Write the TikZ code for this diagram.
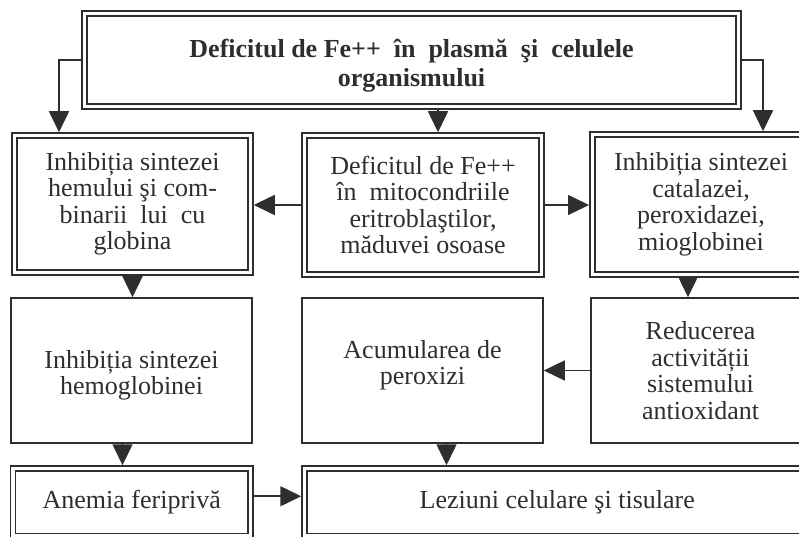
\documentclass[tikz,border=0pt]{standalone}
\usepackage{fontspec}
\setmainfont{Liberation Serif}
\usepackage{tikz}
\usetikzlibrary{arrows.meta, positioning, calc}
\colorlet{inkgray}{black!82}
\tikzset{
  dblbox/.style={draw=inkgray, line width=1.5pt, double=white, double distance=3.5pt,
                 outer sep=3.25pt, inner sep=0pt, align=center, text=inkgray,
                 font=\fontsize{26}{26.5}\selectfont},
  sglbox/.style={draw=inkgray, line width=1.6pt, inner sep=0pt, align=center, text=inkgray,
                 font=\fontsize{26}{26.5}\selectfont},
  arr/.style={draw=inkgray, line width=1.6pt, -{Triangle[length=21pt,width=20pt]}}
}

\begin{document}
\begin{tikzpicture}[x=1pt, y=-1pt]
  \useasboundingbox (0,0) rectangle (799,537);
  \clip (0,0) rectangle (799,537);

  \node[dblbox, minimum width=654pt, minimum height=93pt,
        font=\fontsize{26}{29}\selectfont\bfseries] (defic) at (411.5,60)
        {\rule{0pt}{30pt}Deficitul de Fe++\ \ în\ \ plasmă\ \ şi\ \ celulele\\organismului};

  \node[dblbox, minimum width=236pt, minimum height=137pt] (hemul) at (132.5,204)
        {Inhibiția sintezei\\hemului şi com-\\binarii~~lui~~cu\\globina};
  \node[dblbox, minimum width=237pt, minimum height=139pt] (mito) at (423,205)
        {Deficitul de Fe++\\în~~mitocondriile\\eritroblaştilor,\\măduvei osoase};
  \node[dblbox, minimum width=217.5pt, minimum height=140pt] (catal) at (701,204.5)
        {Inhibiția sintezei\\catalazei,\\peroxidazei,\\mioglobinei};

  \node[sglbox, minimum width=241pt, minimum height=145pt] (hemog) at (131.5,370.5)
        {\rule{0pt}{28pt}Inhibiția sintezei\\hemoglobinei};
  \node[sglbox, minimum width=241pt, minimum height=145pt] (perox) at (422.5,370.5)
        {Acumularea de\\peroxizi\rule[-16pt]{0pt}{0pt}};
  \node[sglbox, minimum width=219pt, minimum height=145pt] (antiox) at (700.5,370.5)
        {Reducerea\\activității\\sistemului\\antioxidant};

  \node[dblbox, minimum width=237.5pt, minimum height=67.5pt] (anemia) at (131.75,502.25)
        {Anemia feriprivă};
  \node[dblbox, minimum width=505.5pt, minimum height=67.5pt] (lezi) at (557.25,502.25)
        {Leziuni celulare şi tisulare};

  \draw[arr] (defic.west) -| ([xshift=-73.5pt]hemul.north);
  \draw[arr] (defic.east) -| ([xshift=62pt]catal.north);
  \draw[arr] ([xshift=15pt]mito.north |- defic.south) -- ([xshift=15pt]mito.north);
  \draw[arr] (mito.west) -- (mito.west -| hemul.east);
  \draw[arr] (mito.east) -- (mito.east -| catal.west);
  \draw[arr] (hemul.south) -- (hemul.south |- hemog.north);
  \draw[arr] ([xshift=-13pt]catal.south) -- ([xshift=-13pt]catal.south |- antiox.north);
  \draw[arr] (antiox.west) -- (antiox.west -| perox.east);
  \draw[arr] ([xshift=-9pt]hemog.south) -- ([xshift=-9pt]hemog.south |- anemia.north);
  \draw[arr] ([xshift=24pt]perox.south) -- ([xshift=24pt]perox.south |- lezi.north);
  \draw[arr] ([yshift=6pt]anemia.east) -- ([yshift=6pt]anemia.east -| lezi.west);
\end{tikzpicture}
\end{document}
